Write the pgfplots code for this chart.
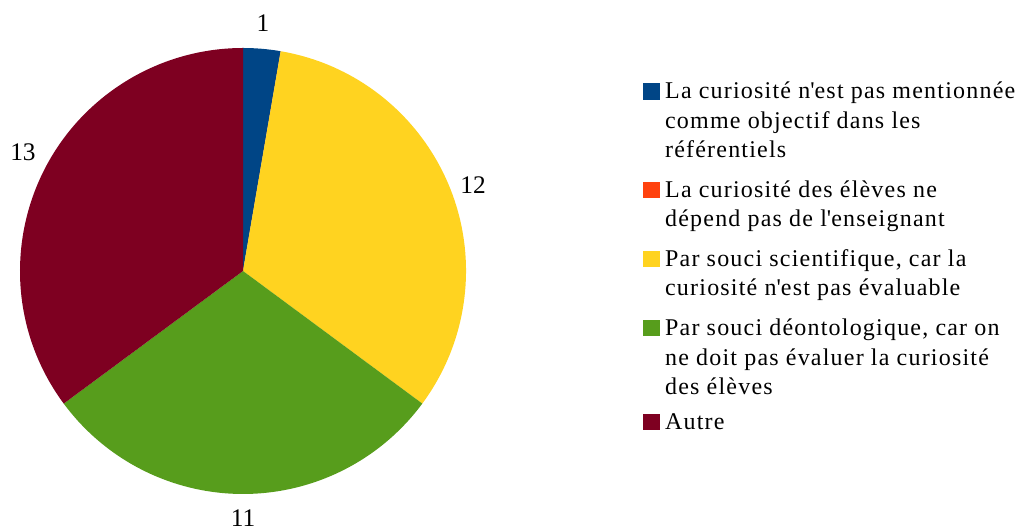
\documentclass[border=0pt]{standalone}
\usepackage{fontspec}
\setmainfont{Liberation Serif}
\newfontfamily\legfont{Liberation Serif}[LetterSpace=5]
\usepackage{pgfplots}
\usepackage{pgfplotstable}
\pgfplotsset{compat=1.18}
\definecolor{pieblue}{HTML}{004586}
\definecolor{pieorange}{HTML}{FF420E}
\definecolor{pieyellow}{HTML}{FFD320}
\definecolor{piegreen}{HTML}{579D1C}
\definecolor{piered}{HTML}{7E0021}
\pgfplotstableread{
idx value
0 1
1 0
2 12
3 11
4 13
}\piedata
\begin{document}
\begin{tikzpicture}
\pgfplotstablegetelem{0}{value}\of\piedata \let\vA\pgfplotsretval
\pgfplotstablegetelem{1}{value}\of\piedata \let\vB\pgfplotsretval
\pgfplotstablegetelem{2}{value}\of\piedata \let\vC\pgfplotsretval
\pgfplotstablegetelem{3}{value}\of\piedata \let\vD\pgfplotsretval
\pgfplotstablegetelem{4}{value}\of\piedata \let\vE\pgfplotsretval
\pgfmathsetmacro\tot{\vA+\vB+\vC+\vD+\vE}
\pgfmathsetmacro\aA{90}
\pgfmathsetmacro\aB{\aA-360*\vA/\tot}
\pgfmathsetmacro\aC{\aB-360*\vB/\tot}
\pgfmathsetmacro\aD{\aC-360*\vC/\tot}
\pgfmathsetmacro\aE{\aD-360*\vD/\tot}
\pgfmathsetmacro\aF{\aE-360*\vE/\tot}
\begin{axis}[
  x=0.75pt, y=0.75pt,
  xmin=0, xmax=1031, ymin=0, ymax=530,
  hide axis, clip=false,
  legend style={at={(axis cs:643,452)}, anchor=north west, draw=none, fill=none,
    inner sep=0pt, row sep=7.6pt, column sep=4.5pt,
    font=\legfont\fontsize{18pt}{22.1pt}\selectfont,
    cells={anchor=base west}, nodes={inner sep=0pt, text depth=, text height=}},
]
\coordinate (bbl) at (axis cs:0,0);
\coordinate (btr) at (axis cs:1031,530);
\fill[pieblue] (axis cs:243,259) -- ++(\aA:167.25pt) arc[start angle=\aA, end angle=\aB, radius=167.25pt] -- cycle;
\fill[pieorange] (axis cs:243,259) -- ++(\aB:167.25pt) arc[start angle=\aB, end angle=\aC, radius=167.25pt] -- cycle;
\fill[pieyellow] (axis cs:243,259) -- ++(\aC:167.25pt) arc[start angle=\aC, end angle=\aD, radius=167.25pt] -- cycle;
\fill[piegreen] (axis cs:243,259) -- ++(\aD:167.25pt) arc[start angle=\aD, end angle=\aE, radius=167.25pt] -- cycle;
\fill[piered] (axis cs:243,259) -- ++(\aE:167.25pt) arc[start angle=\aE, end angle=\aF, radius=167.25pt] -- cycle;
\node[font=\fontsize{19pt}{22pt}\selectfont] at (axis cs:263,507) {1};
\node[font=\fontsize{19pt}{22pt}\selectfont] at (axis cs:473,345) {12};
\node[font=\fontsize{19pt}{22pt}\selectfont] at (axis cs:243,11.5) {11};
\node[font=\fontsize{19pt}{22pt}\selectfont] at (axis cs:23,378) {13};
\addlegendimage{legend image code/.code={\fill[pieblue] (0pt,0pt) rectangle (11.5pt,11.5pt);}}
\addlegendentry{\begin{tabular}[t]{@{}l@{}}La curiosité n\textquotesingle est pas mentionnée\\comme objectif dans les\\référentiels\end{tabular}}
\addlegendimage{legend image code/.code={\fill[pieorange] (0pt,0pt) rectangle (11.5pt,11.5pt);}}
\addlegendentry{\begin{tabular}[t]{@{}l@{}}La curiosité des élèves ne\\dépend pas de l\textquotesingle enseignant\end{tabular}}
\addlegendimage{legend image code/.code={\fill[pieyellow] (0pt,0pt) rectangle (11.5pt,11.5pt);}}
\addlegendentry{\begin{tabular}[t]{@{}l@{}}Par souci scientifique, car la\\curiosité n\textquotesingle est pas évaluable\end{tabular}}
\addlegendimage{legend image code/.code={\fill[piegreen] (0pt,0pt) rectangle (11.5pt,11.5pt);}}
\addlegendentry{\begin{tabular}[t]{@{}l@{}}Par souci déontologique, car on\\ne doit pas évaluer la curiosité\\des élèves\end{tabular}}
\addlegendimage{legend image code/.code={\fill[piered] (0pt,0pt) rectangle (11.5pt,11.5pt);}}
\addlegendentry{Autre}
\end{axis}
\pgfresetboundingbox
\useasboundingbox (bbl) rectangle (btr);
\end{tikzpicture}
\end{document}
